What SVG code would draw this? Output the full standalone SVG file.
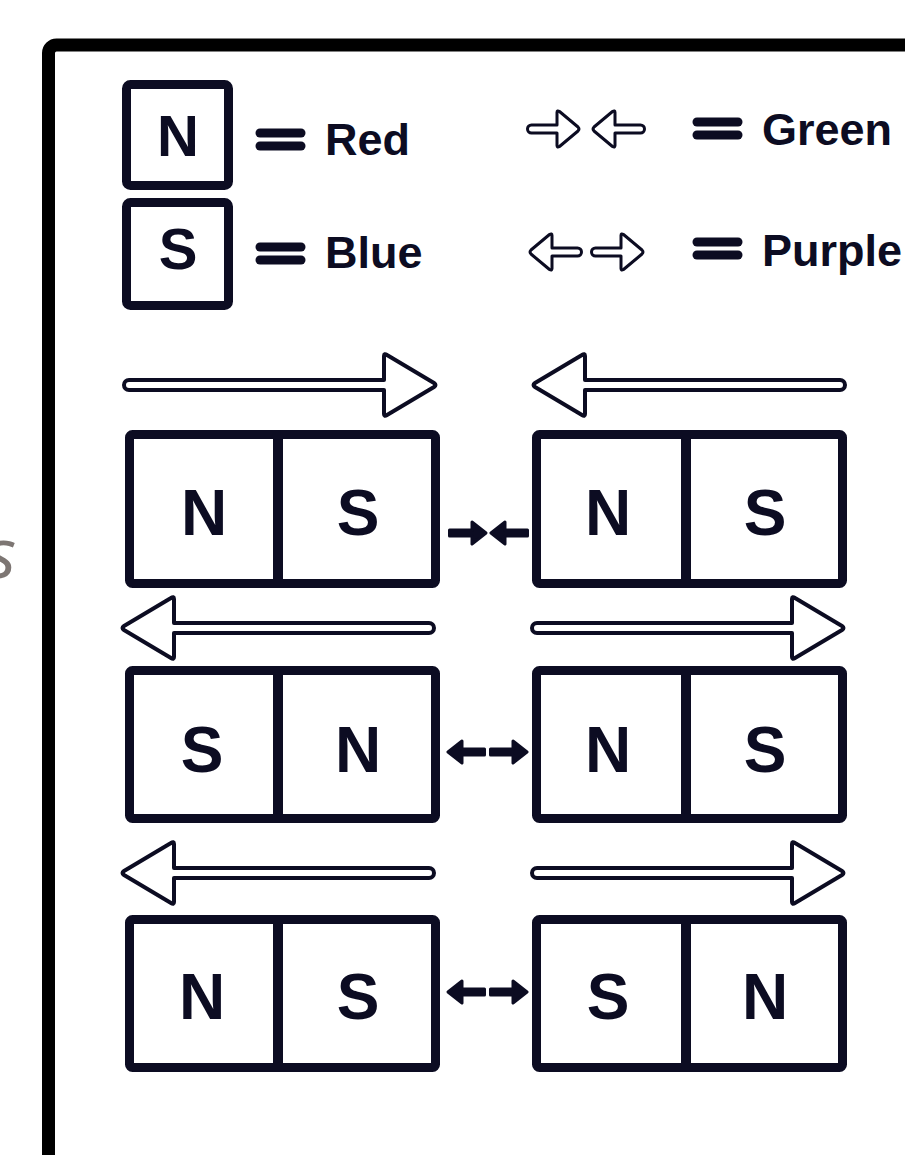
<svg xmlns="http://www.w3.org/2000/svg" xmlns:xlink="http://www.w3.org/1999/xlink" width="905" height="1155" viewBox="0 0 905 1155">
<style>
.box{fill:#fff;stroke:#0c0c22;stroke-width:9;stroke-linejoin:round;}
.div{stroke:#0c0c22;stroke-width:10;}
.lbl{font-family:"Liberation Sans",Arial,sans-serif;font-weight:bold;fill:#0c0c22;text-anchor:middle;}
.leg{font-family:"Liberation Sans",Arial,sans-serif;font-weight:bold;fill:#0c0c22;font-size:45px;}
.eq{stroke:#0c0c22;stroke-width:9;stroke-linecap:round;}
.hollow{fill:#fff;stroke:#0c0c22;stroke-linejoin:round;}
.solid{fill:#0c0c22;stroke:#0c0c22;stroke-width:3;stroke-linejoin:round;}
</style>
<defs>
<path id="bigArrow" class="hollow" stroke-width="4" d="M7,-5 L262,-5 L262,-29 Q262,-32 265,-30 L312,-2 Q315,0 312,2 L265,30 Q262,32 262,29 L262,5 L7,5 A5 5 0 0 1 7,-5 Z"/>
<path id="smallArrow" class="hollow" stroke-width="3" d="M4.5,-4 L30,-4 L30,-16.5 Q30,-19 32.5,-17.5 L51,-2 Q53,0 51,2 L32.5,17.5 Q30,19 30,16.5 L30,4 L4.5,4 A4 4 0 0 1 4.5,-4 Z"/>
<path id="solidArrow" class="solid" d="M1.5,-3 L24,-3 L24,-11 L38,0 L24,11 L24,3 L1.5,3 Z"/>
</defs>
<rect width="905" height="1155" fill="#fff"/>
<text x="-14" y="578" font-family="'Open Sans',sans-serif" font-style="italic" font-size="70" fill="#7d7673">s</text>
<rect x="48.5" y="45" width="1000" height="1200" rx="8" fill="none" stroke="#000" stroke-width="13"/>

<g id="legend">
  <g id="legend-n">
    <rect class="box" x="126.5" y="84.5" width="102" height="101" rx="4"/>
    <text class="lbl" x="178" y="156" font-size="58">N</text>
    <line class="eq" x1="260" y1="133" x2="301" y2="133"/>
    <line class="eq" x1="260" y1="146" x2="301" y2="146"/>
    <text class="leg" x="325" y="155">Red</text>
  </g>
  <g id="legend-s">
    <rect class="box" x="126.5" y="202.5" width="102" height="103" rx="4"/>
    <text class="lbl" x="178" y="269" font-size="58">S</text>
    <line class="eq" x1="260" y1="247" x2="301" y2="247"/>
    <line class="eq" x1="260" y1="260" x2="301" y2="260"/>
    <text class="leg" x="325" y="268">Blue</text>
  </g>
  <g id="legend-green">
    <use xlink:href="#smallArrow" href="#smallArrow" transform="translate(527,129)"/>
    <use xlink:href="#smallArrow" href="#smallArrow" transform="translate(645,129) scale(-1,1)"/>
    <line class="eq" x1="697" y1="122" x2="738" y2="122"/>
    <line class="eq" x1="697" y1="135" x2="738" y2="135"/>
    <text class="leg" x="762" y="145">Green</text>
  </g>
  <g id="legend-purple">
    <use xlink:href="#smallArrow" href="#smallArrow" transform="translate(582,252) scale(-1,1)"/>
    <use xlink:href="#smallArrow" href="#smallArrow" transform="translate(591,252)"/>
    <line class="eq" x1="697" y1="242" x2="738" y2="242"/>
    <line class="eq" x1="697" y1="255" x2="738" y2="255"/>
    <text class="leg" x="762" y="266">Purple</text>
  </g>
</g>

<g id="force-arrows">
  <use xlink:href="#bigArrow" href="#bigArrow" transform="translate(122,385)"/>
  <use xlink:href="#bigArrow" href="#bigArrow" transform="translate(847,385) scale(-1,1)"/>
  <use xlink:href="#bigArrow" href="#bigArrow" transform="translate(436,628) scale(-1,1)"/>
  <use xlink:href="#bigArrow" href="#bigArrow" transform="translate(530,628)"/>
  <use xlink:href="#bigArrow" href="#bigArrow" transform="translate(436,873) scale(-1,1)"/>
  <use xlink:href="#bigArrow" href="#bigArrow" transform="translate(530,873)"/>
</g>

<g id="magnet-1a">
  <rect class="box" x="129.5" y="434.5" width="306" height="149" rx="3"/>
  <line class="div" x1="278" y1="432" x2="278" y2="586"/>
  <text class="lbl" x="204" y="535" font-size="64">N</text>
  <text class="lbl" x="358" y="535" font-size="64">S</text>
</g>
<g id="magnet-1b">
  <rect class="box" x="536.5" y="434.5" width="306" height="149" rx="3"/>
  <line class="div" x1="686" y1="432" x2="686" y2="586"/>
  <text class="lbl" x="608" y="535" font-size="64">N</text>
  <text class="lbl" x="765" y="535" font-size="64">S</text>
</g>
<g id="magnet-2a">
  <rect class="box" x="129.5" y="670.5" width="306" height="148" rx="3"/>
  <line class="div" x1="278" y1="668" x2="278" y2="821"/>
  <text class="lbl" x="202" y="772" font-size="64">S</text>
  <text class="lbl" x="358" y="772" font-size="64">N</text>
</g>
<g id="magnet-2b">
  <rect class="box" x="536.5" y="670.5" width="306" height="148" rx="3"/>
  <line class="div" x1="686" y1="668" x2="686" y2="821"/>
  <text class="lbl" x="608" y="772" font-size="64">N</text>
  <text class="lbl" x="765" y="772" font-size="64">S</text>
</g>
<g id="magnet-3a">
  <rect class="box" x="129.5" y="919.5" width="306" height="148" rx="3"/>
  <line class="div" x1="278" y1="917" x2="278" y2="1070"/>
  <text class="lbl" x="202" y="1019" font-size="64">N</text>
  <text class="lbl" x="358" y="1019" font-size="64">S</text>
</g>
<g id="magnet-3b">
  <rect class="box" x="536.5" y="919.5" width="306" height="148" rx="3"/>
  <line class="div" x1="686" y1="917" x2="686" y2="1070"/>
  <text class="lbl" x="608" y="1019" font-size="64">S</text>
  <text class="lbl" x="765" y="1019" font-size="64">N</text>
</g>

<g id="connectors">
  <use xlink:href="#solidArrow" href="#solidArrow" transform="translate(448,533)"/>
  <use xlink:href="#solidArrow" href="#solidArrow" transform="translate(529,533) scale(-1,1)"/>
  <use xlink:href="#solidArrow" href="#solidArrow" transform="translate(486,752) scale(-1,1)"/>
  <use xlink:href="#solidArrow" href="#solidArrow" transform="translate(489,752)"/>
  <use xlink:href="#solidArrow" href="#solidArrow" transform="translate(486,992) scale(-1,1)"/>
  <use xlink:href="#solidArrow" href="#solidArrow" transform="translate(489,992)"/>
</g>
</svg>
